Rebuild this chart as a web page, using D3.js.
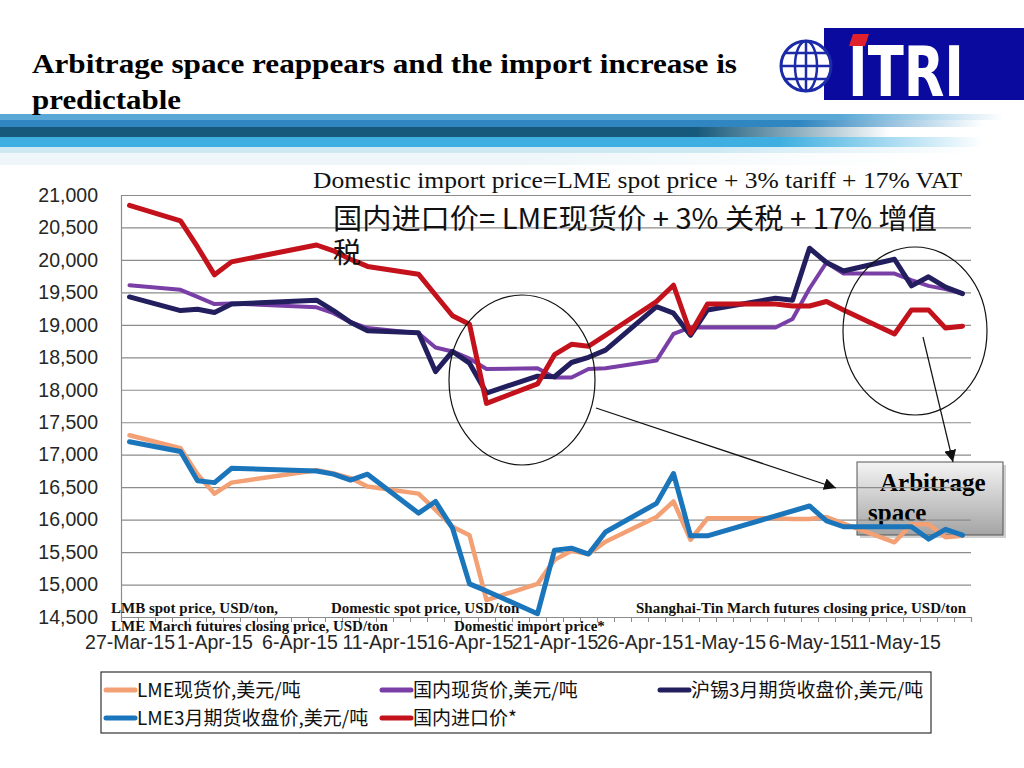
<!DOCTYPE html>
<html><head><meta charset="utf-8">
<script src="https://cdn.jsdelivr.net/npm/d3@7"></script>
<style>body{margin:0;background:#fff;}svg{display:block;}</style>
</head><body>
<svg id="c" width="1024" height="768"></svg>
<script>
// ---------------- data ----------------
const dates = ["2015-03-27","2015-03-30","2015-03-31","2015-04-01","2015-04-02","2015-04-07","2015-04-08","2015-04-09","2015-04-10","2015-04-13","2015-04-14","2015-04-15","2015-04-16","2015-04-17","2015-04-20","2015-04-21","2015-04-22","2015-04-23","2015-04-24","2015-04-27","2015-04-28","2015-04-29","2015-04-30","2015-05-04","2015-05-05","2015-05-06","2015-05-07","2015-05-08","2015-05-11","2015-05-12","2015-05-13","2015-05-14","2015-05-15"];
const lmeSpot      = [17300,17100,16700,16400,16570,16760,16710,16640,16510,16400,16150,15890,15760,14760,15010,15380,15520,15470,15660,16040,16280,15690,16020,16020,16010,16010,16040,15940,15650,15930,15930,15730,15750];
const domesticSpot = [19610,19540,19430,19320,19330,19270,19180,19040,18950,18870,18650,18590,18480,18320,18330,18190,18190,18320,18330,18450,18860,18960,18960,18960,19090,19560,19960,19790,19790,19690,19600,19550,19480];
const shfeMarch    = [19430,19220,19240,19190,19320,19380,19220,19040,18910,18880,18280,18590,18410,17950,18210,18200,18420,18500,18610,19280,19180,18840,19230,19410,19380,20180,19960,19830,20010,19600,19740,19580,19480];
const lmeMarch     = [17200,17050,16600,16570,16790,16750,16700,16610,16700,16100,16280,15870,15010,14900,14550,15530,15560,15470,15810,16250,16710,15750,15750,null,null,16210,15980,15890,15890,15890,15700,15850,15760];
const importPrice  = [20840,20600,20200,19770,19970,20230,20140,20010,19900,19780,19460,19140,19010,17790,18090,18540,18700,18670,18840,19360,19610,18870,19320,19320,19290,19290,19360,19230,18860,19230,19230,18950,18980];
const seriesNames  = ["LME现货价,美元/吨","国内现货价,美元/吨","沪锡3月期货收盘价,美元/吨","LME3月期货收盘价,美元/吨","国内进口价*"];
const yTicks = [14500,15000,15500,16000,16500,17000,17500,18000,18500,19000,19500,20000,20500,21000];
const xTickLabels = ["27-Mar-15","1-Apr-15","6-Apr-15","11-Apr-15","16-Apr-15","21-Apr-15","26-Apr-15","1-May-15","6-May-15","11-May-15"];
const xDomain = ["2015-03-27","2015-05-16"];

// ---------------- styles ----------------
const seriesStyle = [
  {color:"#f2a074", w:4.5},
  {color:"#7a3fa6", w:4},
  {color:"#231f5e", w:5},
  {color:"#1b75bb", w:5},
  {color:"#c4121c", w:5}
];
const seriesValues = [lmeSpot, domesticSpot, shfeMarch, lmeMarch, importPrice];

const svg = d3.select("#c");
const defs = svg.append("defs");

// ---------------- header band ----------------
const bands = [
  {y:114,h:6,c:"#5aa8d6",f0:0.82,f1:0.98},
  {y:120,h:7,c:"#2f86c0",f0:0.78,f1:0.96},
  {y:127,h:10,c:"#17597a",f0:0.68,f1:0.87},
  {y:137,h:10,c:"#3eafe0",f0:0.76,f1:0.96},
  {y:147,h:6,c:"#cfe9f3",f0:0.70,f1:0.95},
  {y:153,h:12,c:"#eef6f9",f0:0.50,f1:0.90}
];
bands.forEach((b,i)=>{
  const g = defs.append("linearGradient").attr("id","band"+i).attr("x1","0").attr("x2","1").attr("y1","0").attr("y2","0");
  g.append("stop").attr("offset",0).attr("stop-color",b.c).attr("stop-opacity",1);
  g.append("stop").attr("offset",b.f0).attr("stop-color",b.c).attr("stop-opacity",1);
  g.append("stop").attr("offset",b.f1).attr("stop-color",b.c).attr("stop-opacity",0);
  svg.append("rect").attr("x",0).attr("y",b.y).attr("width",1024).attr("height",b.h).attr("fill","url(#band"+i+")");
});

// ---------------- title ----------------
svg.append("text").attr("x",32).attr("y",73).attr("font-family","Liberation Serif, Times New Roman, serif")
  .attr("font-weight","bold").attr("font-size",28).attr("textLength",705).attr("lengthAdjust","spacingAndGlyphs")
  .text("Arbitrage space reappears and the import increase is");
svg.append("text").attr("x",32).attr("y",109).attr("font-family","Liberation Serif, Times New Roman, serif")
  .attr("font-weight","bold").attr("font-size",28).attr("textLength",149).attr("lengthAdjust","spacingAndGlyphs")
  .text("predictable");

// ---------------- logo ----------------
svg.append("rect").attr("x",824).attr("y",28).attr("width",200).attr("height",72).attr("fill","#0a0a9e");
const gl = svg.append("g").attr("transform","translate(806,66)");
gl.append("circle").attr("r",25).attr("fill","#fff").attr("stroke","#1b2aa8").attr("stroke-width",3);
gl.append("ellipse").attr("rx",11).attr("ry",25).attr("fill","none").attr("stroke","#1b2aa8").attr("stroke-width",2.5);
gl.append("line").attr("x1",0).attr("x2",0).attr("y1",-25).attr("y2",25).attr("stroke","#1b2aa8").attr("stroke-width",2.5);
[-13,0,13].forEach(v=>{
  const hw = Math.sqrt(625-v*v);
  gl.append("line").attr("x1",-hw).attr("x2",hw).attr("y1",v).attr("y2",v).attr("stroke","#1b2aa8").attr("stroke-width",2.5);
});
svg.append("text").attr("x",848).attr("y",96).attr("fill","#fff").attr("font-family","DejaVu Sans Condensed, DejaVu Sans, sans-serif")
  .attr("font-weight","bold").attr("font-size",70).attr("textLength",116).attr("lengthAdjust","spacingAndGlyphs").text("ITRI");
svg.append("polygon").attr("points","853,34 869,34 865,46 849,46").attr("fill","#e0202a");

// ---------------- annotation box (under the chart) ----------------
const bg = defs.append("linearGradient").attr("id","boxg").attr("x1","0").attr("x2","0").attr("y1","0").attr("y2","1");
bg.append("stop").attr("offset",0).attr("stop-color","#f4f4f4");
bg.append("stop").attr("offset",1).attr("stop-color","#a4a4a4");
svg.append("rect").attr("x",860).attr("y",465).attr("width",146).attr("height",73).attr("fill","#d0d0d0");
svg.append("rect").attr("x",857).attr("y",462).attr("width",146).attr("height",73).attr("fill","url(#boxg)").attr("stroke","#555").attr("stroke-width",1);
svg.append("text").attr("x",880).attr("y",491).attr("font-family","Liberation Serif, serif").attr("font-weight","bold").attr("font-size",25).text("Arbitrage");
svg.append("text").attr("x",868).attr("y",521).attr("font-family","Liberation Serif, serif").attr("font-weight","bold").attr("font-size",25).text("space");

// ---------------- chart ----------------
const parse = d3.timeParse("%Y-%m-%d");
const parseLbl = d3.timeParse("%d-%b-%y");
const plotL = 121, plotR = 971, plotT = 195, plotB = 617;
const x = d3.scaleTime().domain(xDomain.map(parse)).range([plotL, plotR]);
const y = d3.scaleLinear().domain([yTicks[0], yTicks[yTicks.length-1]]).range([plotB, plotT]);
const mid = d => d3.timeHour.offset(d, 12);

// gridlines
const grid = svg.append("g").attr("transform",`translate(${plotL},0)`)
  .call(d3.axisLeft(y).tickValues(yTicks).tickSize(-(plotR-plotL)).tickFormat(""));
grid.select(".domain").remove();
grid.selectAll("line").attr("stroke","#8c8c8c").attr("stroke-width",1.2);

// y labels
const ya = svg.append("g").attr("transform",`translate(${plotL},0)`)
  .call(d3.axisLeft(y).tickValues(yTicks).tickSize(0).tickPadding(23).tickFormat(d3.format(",")));
ya.select(".domain").attr("stroke","#8c8c8c").attr("stroke-width",1.2);
ya.selectAll("text").attr("font-family","Liberation Sans, Arial, sans-serif").attr("font-size",19.5).attr("fill","#262626");

// x axis: day ticks
const dayTicks = d3.timeDay.range(x.domain()[0], d3.timeDay.offset(x.domain()[1],1));
const xd = svg.append("g").attr("transform",`translate(0,${plotB})`)
  .call(d3.axisBottom(x).tickValues(dayTicks).tickSize(5).tickFormat(""));
xd.select(".domain").attr("stroke","#8c8c8c").attr("stroke-width",1.2);
xd.selectAll("line").attr("stroke","#8c8c8c");

// x labels
const lblDates = xTickLabels.map(s => mid(parseLbl(s)));
const xl = svg.append("g").attr("transform",`translate(0,${plotB})`)
  .call(d3.axisBottom(x).tickValues(lblDates).tickSize(0).tickPadding(18).tickFormat((d,i)=>xTickLabels[i]));
xl.select(".domain").remove();
xl.selectAll("text").attr("font-family","Liberation Sans, Arial, sans-serif").attr("font-size",19.5).attr("fill","#262626");

// english series captions on chart
const cap = [
  {t:"LMB spot price, USD/ton,", x:111, y:613},
  {t:"Domestic spot price, USD/ton", x:331, y:613},
  {t:"Shanghai-Tin March futures closing price, USD/ton", x:636, y:613},
  {t:"LME March futures closing price, USD/ton", x:111, y:631},
  {t:"Domestic import price*", x:454, y:631}
];
svg.append("g").selectAll("text").data(cap).join("text")
  .attr("x",d=>d.x).attr("y",d=>d.y).attr("font-family","Liberation Serif, serif").attr("font-weight","bold")
  .attr("font-size",15).attr("fill","#111").text(d=>d.t);

// series lines
const line = d3.line().x(d=>x(mid(d.date))).y(d=>y(d.v));
seriesValues.forEach((vals,i)=>{
  const pts = dates.map((s,j)=>({date:parse(s), v:vals[j]})).filter(p=>p.v!=null);
  svg.append("path").datum(pts).attr("d",line).attr("fill","none")
    .attr("stroke",seriesStyle[i].color).attr("stroke-width",seriesStyle[i].w)
    .attr("stroke-linejoin","round").attr("stroke-linecap","round");
});

// ---------------- annotations ----------------
svg.append("text").attr("x",313).attr("y",188).attr("font-family","Liberation Serif, Times New Roman, serif")
  .attr("font-size",23).attr("fill","#111").attr("textLength",649).attr("lengthAdjust","spacingAndGlyphs")
  .text("Domestic import price=LME spot price + 3% tariff + 17% VAT");
svg.append("text").attr("x",333).attr("y",229).attr("font-family","Noto Sans CJK SC, sans-serif")
  .attr("font-size",28).attr("fill","#111").attr("textLength",604).attr("lengthAdjust","spacingAndGlyphs")
  .text("国内进口价= LME现货价 + 3% 关税 + 17% 增值");
svg.append("text").attr("x",333).attr("y",263).attr("font-family","Noto Sans CJK SC, sans-serif")
  .attr("font-size",28).attr("fill","#111").text("税");

svg.append("ellipse").attr("cx",522).attr("cy",380).attr("rx",73).attr("ry",85).attr("fill","none").attr("stroke","#111").attr("stroke-width",1.2);
svg.append("ellipse").attr("cx",915).attr("cy",331).attr("rx",72).attr("ry",84).attr("fill","none").attr("stroke","#111").attr("stroke-width",1.2);

defs.append("marker").attr("id","arr").attr("viewBox","0 0 10 10").attr("refX",10).attr("refY",5)
  .attr("markerWidth",12).attr("markerHeight",12).attr("markerUnits","userSpaceOnUse").attr("orient","auto")
  .append("path").attr("d","M0,0 L10,5 L0,10 z").attr("fill","#111");
svg.append("line").attr("x1",596).attr("y1",408).attr("x2",836).attr("y2",488).attr("stroke","#111").attr("stroke-width",1.2).attr("marker-end","url(#arr)");
svg.append("line").attr("x1",923).attr("y1",337).attr("x2",953).attr("y2",462).attr("stroke","#111").attr("stroke-width",1.2).attr("marker-end","url(#arr)");

// ---------------- legend ----------------
svg.append("rect").attr("x",101).attr("y",672).attr("width",830).attr("height",61).attr("fill","#fff").attr("stroke","#333").attr("stroke-width",1.2);
const legPos = [{x:106,y:690},{x:382,y:690},{x:660,y:690},{x:106,y:718},{x:382,y:718}];
seriesNames.forEach((n,i)=>{
  const p = legPos[i];
  svg.append("line").attr("x1",p.x).attr("x2",p.x+29).attr("y1",p.y).attr("y2",p.y)
    .attr("stroke",seriesStyle[i].color).attr("stroke-width",5).attr("stroke-linecap","round");
  svg.append("text").attr("x",p.x+31).attr("y",p.y+7).attr("font-family","Noto Sans CJK SC, sans-serif")
    .attr("font-size",19).attr("fill","#111").text(n);
});
</script>
</body></html>
